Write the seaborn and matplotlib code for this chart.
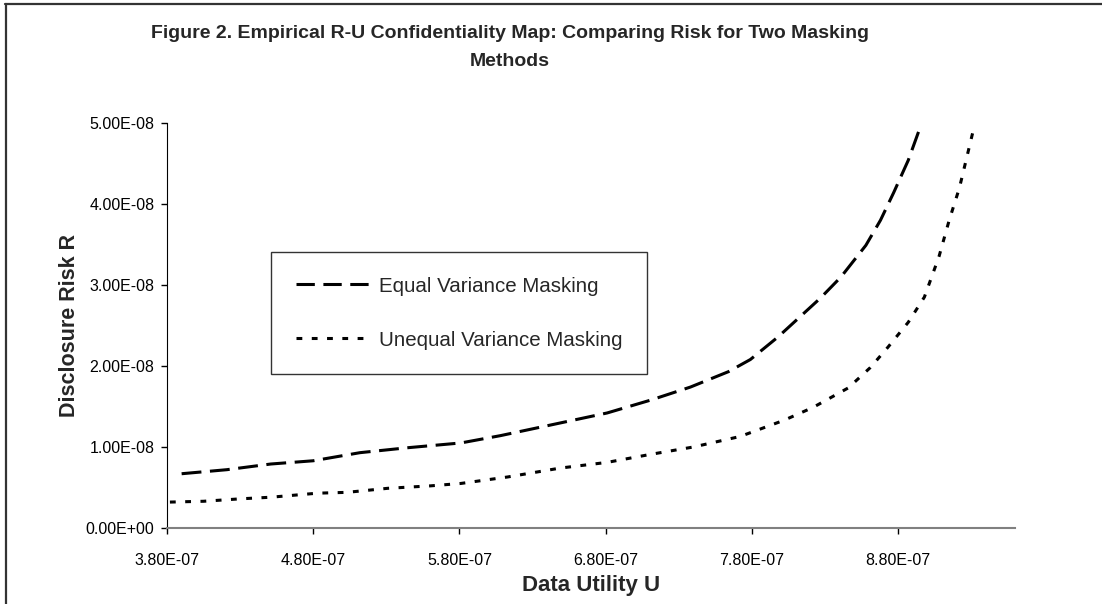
import pandas as pd
import matplotlib.pyplot as plt
import seaborn as sns
from matplotlib.lines import Line2D
from matplotlib.ticker import FuncFormatter

# values (U in 1e-7, R in 1e-8)
equal_u = [3.90, 4.21, 4.51, 4.80, 5.12, 5.44, 5.81, 6.08, 6.42, 6.81, 7.11, 7.38,
           7.64, 7.79, 7.98, 8.27, 8.41, 8.58, 8.68, 8.77, 8.87, 8.94]
equal_r = [0.67, 0.72, 0.79, 0.83, 0.93, 0.99, 1.05, 1.14, 1.27, 1.42, 1.58, 1.74,
           1.93, 2.08, 2.36, 2.84, 3.10, 3.49, 3.80, 4.14, 4.54, 4.89]
unequal_u = [3.82, 4.05, 4.30, 4.51, 4.83, 5.03, 5.31, 5.60, 5.81, 6.13, 6.49, 6.81,
             7.11, 7.40, 7.72, 8.02, 8.22, 8.46, 8.61, 8.73, 8.87, 8.98, 9.08, 9.15,
             9.22, 9.32]
unequal_r = [0.32, 0.33, 0.36, 0.38, 0.43, 0.44, 0.49, 0.52, 0.55, 0.63, 0.74, 0.81,
             0.91, 1.00, 1.13, 1.33, 1.49, 1.73, 1.98, 2.23, 2.54, 2.85, 3.35, 3.80,
             4.20, 4.95]
x_ticks = [3.8e-7, 4.8e-7, 5.8e-7, 6.8e-7, 7.8e-7, 8.8e-7]
y_ticks = [0, 1e-8, 2e-8, 3e-8, 4e-8, 5e-8]

df = pd.concat([
    pd.DataFrame({'U': [u * 1e-7 for u in equal_u], 'R': [r * 1e-8 for r in equal_r],
                  'Method': 'Equal Variance Masking'}),
    pd.DataFrame({'U': [u * 1e-7 for u in unequal_u], 'R': [r * 1e-8 for r in unequal_r],
                  'Method': 'Unequal Variance Masking'}),
])

sns.set_style('white')
plt.rcParams['font.family'] = ['Liberation Sans', 'DejaVu Sans']

W, H = 1102, 604
fig = plt.figure(figsize=(W / 100, H / 100), dpi=100)
ax = fig.add_axes([167 / W, 1 - 528 / H, (1015 - 167) / W, (528 - 123) / H])

sns.lineplot(data=df, x='U', y='R', style='Method', color='black', linewidth=2.2,
             dashes={'Equal Variance Masking': (6.5, 2.8),
                     'Unequal Variance Masking': (1.9, 3.1)},
             sort=False, estimator=None, ax=ax, legend=False)

ax.set_xlim(3.8e-7, 9.6e-7)
ax.set_ylim(0, 5e-8)
ax.set_xticks(x_ticks)
ax.set_yticks(y_ticks)
fmt = FuncFormatter(lambda v, p: f'{v:.2E}')
ax.xaxis.set_major_formatter(fmt)
ax.yaxis.set_major_formatter(fmt)
ax.tick_params(axis='both', labelsize=11.5, length=4, width=1, direction='out',
               left=True, bottom=True, pad=5, colors='black')
ax.tick_params(axis='x', pad=14)
for s in ['top', 'right']:
    ax.spines[s].set_visible(False)
ax.spines['left'].set_color('black')
ax.spines['bottom'].set_color('#808080')
ax.spines['bottom'].set_linewidth(1.5)
ax.set_xlabel('Data Utility U', fontsize=16, fontweight='bold', labelpad=5)
ax.set_ylabel('Disclosure Risk R', fontsize=15.5, fontweight='bold', labelpad=4)

handles = [Line2D([], [], color='black', lw=2.2, dashes=(6, 2.8)),
           Line2D([], [], color='black', lw=2.2, dashes=(1.9, 3.1))]
leg = ax.legend(handles, ['Equal Variance Masking', 'Unequal Variance Masking'],
                loc='upper left', bbox_to_anchor=(271 / W, 1 - 252 / H),
                bbox_transform=fig.transFigure, borderaxespad=0, fontsize=14.8,
                handlelength=3.6, handletextpad=0.45, borderpad=1.2, labelspacing=1.7,
                fancybox=False, frameon=True)
leg.get_frame().set_edgecolor('black')
leg.get_frame().set_linewidth(1)

fig.text(510 / W, 1 - 33 / H, 'Figure 2. Empirical R-U Confidentiality Map: Comparing Risk for Two Masking',
         ha='center', va='center', fontsize=14, fontweight='bold')
fig.text(510 / W, 1 - 61 / H, 'Methods', ha='center', va='center', fontsize=14, fontweight='bold')

# outer chart frame
fig.add_artist(Line2D([5 / W, 1], [1 - 4 / H, 1 - 4 / H], color='#333333', lw=1.6,
                      transform=fig.transFigure))
fig.add_artist(Line2D([6 / W, 6 / W], [0, 1 - 4 / H], color='#333333', lw=1.6,
                      transform=fig.transFigure))

fig.savefig('out.png', dpi=100)
